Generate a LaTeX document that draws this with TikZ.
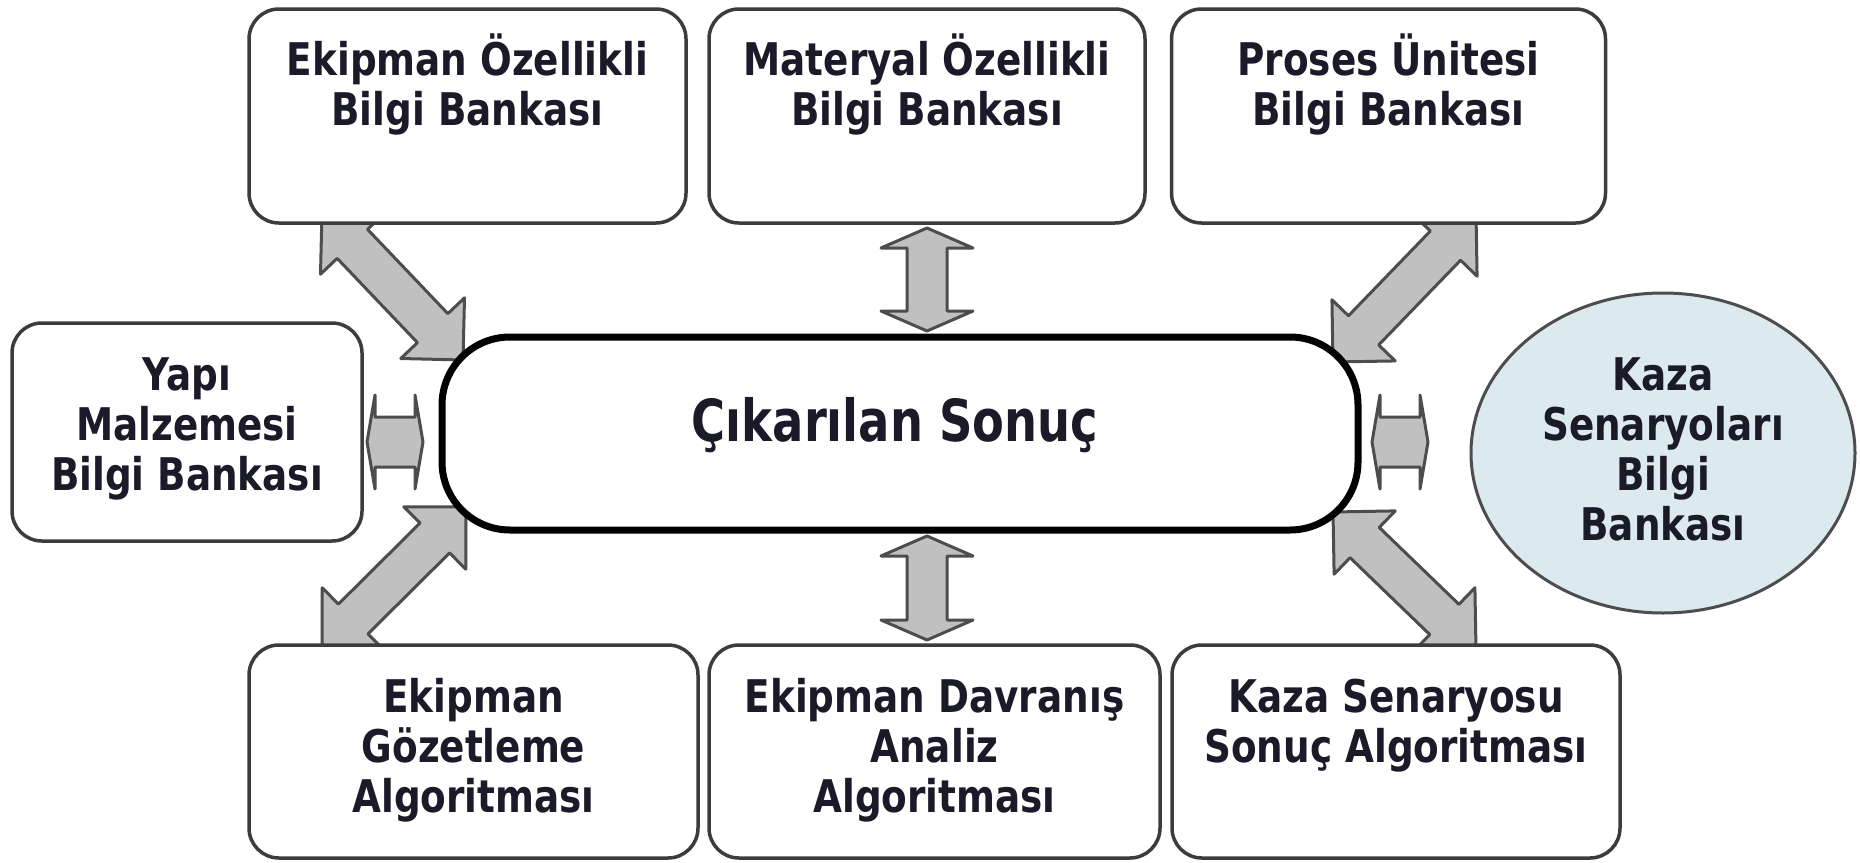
\documentclass[tikz,border=0pt]{standalone}
\usepackage{fontspec}
\setmainfont{DejaVu Sans}[FakeStretch=0.83]
\newfontfamily\titlefont{DejaVu Sans}[FakeStretch=0.80]
\usetikzlibrary{calc,shapes.geometric}

\definecolor{boxline}{HTML}{3C3C3C}
\definecolor{arrfill}{HTML}{C0C0C0}
\definecolor{arrline}{HTML}{4D4D4D}
\definecolor{txt}{HTML}{1A1A28}
\definecolor{ellfill}{HTML}{DCEAEF}

% strut that fixes the height of the first text line
\newcommand{\firstline}{\rule{0pt}{43pt}}

% double-headed block arrow between two tips:
% #1,#2 tips, #3 shaft half-width, #4 head half-width, #5 head length
\newcommand{\dblarrow}[5]{%
  \filldraw[arrowbody]
    (#1)
    -- ($(#1)!#5!(#2)!#4!90:(#2)$)
    -- ($(#1)!#5!(#2)!#3!90:(#2)$)
    -- ($(#2)!#5!(#1)!#3!-90:(#1)$)
    -- ($(#2)!#5!(#1)!#4!-90:(#1)$)
    -- (#2)
    -- ($(#2)!#5!(#1)!#4!90:(#1)$)
    -- ($(#2)!#5!(#1)!#3!90:(#1)$)
    -- ($(#1)!#5!(#2)!#3!-90:(#2)$)
    -- ($(#1)!#5!(#2)!#4!-90:(#2)$)
    -- cycle;}

\tikzset{
  bx/.style={draw=boxline, line width=3.5pt, fill=white, rounded corners=30pt,
             inner sep=0pt},
  lbl/.style={text=txt, font=\bfseries\fontsize{45}{50}\selectfont,
              align=center, inner sep=0pt, anchor=north},
  arrowbody/.style={fill=arrfill, draw=arrline, line width=3pt, line join=round},
}

\begin{document}
\begin{tikzpicture}[x=1pt,y=-1pt]
  \useasboundingbox (0,0) rectangle (1860,862);
  \fill[white] (0,0) rectangle (1860,862);

  % arrow tips
  \coordinate (a1s) at (322,212);  \coordinate (a1e) at (463,360);
  \coordinate (a2s) at (1476,214); \coordinate (a2e) at (1333,362);
  \coordinate (a3s) at (322,650);  \coordinate (a3e) at (466,507);
  \coordinate (a4s) at (1476,650); \coordinate (a4e) at (1333,512);
  \coordinate (a5s) at (927,228);  \coordinate (a5e) at (927,331);
  \coordinate (a6s) at (927,536);  \coordinate (a6e) at (927,640);
  \coordinate (a7s) at (367,442);  \coordinate (a7e) at (423,442);
  \coordinate (a8s) at (1372,442); \coordinate (a8e) at (1428,442);

  % block arrows (drawn first, boxes cover their ends)
  \dblarrow{a1s}{a1e}{21pt}{44pt}{44pt}
  \dblarrow{a2s}{a2e}{21pt}{44pt}{44pt}
  \dblarrow{a3s}{a3e}{21pt}{44pt}{44pt}
  \dblarrow{a4s}{a4e}{21pt}{44pt}{44pt}
  \dblarrow{a5s}{a5e}{20pt}{46pt}{20pt}
  \dblarrow{a6s}{a6e}{20pt}{46pt}{20pt}
  \dblarrow{a7s}{a7e}{25pt}{47pt}{8pt}
  \dblarrow{a8s}{a8e}{25pt}{47pt}{8pt}

  % top row
  \node[bx, minimum width=437pt, minimum height=214pt] (e1) at (467.5,116) {};
  \node[bx, minimum width=436pt, minimum height=214pt] (e2) at (927,116) {};
  \node[bx, minimum width=434pt, minimum height=214pt] (e3) at (1388.5,116) {};
  \node[lbl] (e1t) at (467.5,32) {\firstline Ekipman Özellikli\\Bilgi Bankası};
  \node[lbl] (e2t) at (927,32) {\firstline Materyal Özellikli\\Bilgi Bankası};
  \node[lbl] (e3t) at (1388.5,32) {\firstline Proses Ünitesi\\Bilgi Bankası};

  % bottom row
  \node[bx, minimum width=449pt, minimum height=213pt] (b1) at (473.5,751.5) {};
  \node[bx, minimum width=451pt, minimum height=213pt] (b2) at (934.5,751.5) {};
  \node[bx, minimum width=448pt, minimum height=213pt] (b3) at (1396,751.5) {};
  \node[lbl] (b1t) at (473.5,669) {\firstline Ekipman\\Gözetleme\\Algoritması};
  \node[lbl] (b2t) at (934.5,669) {\firstline Ekipman Davranış\\Analiz\\Algoritması};
  \node[lbl] (b3t) at (1396,669) {\firstline Kaza Senaryosu\\Sonuç Algoritması};

  % middle row
  \node[bx, minimum width=350pt, minimum height=218pt] (yp) at (187,432) {};
  \node[lbl] (ypt) at (187,347) {\firstline Yapı\\Malzemesi\\Bilgi Bankası};

  \node[draw=black, line width=7pt, fill=white, rounded corners=68pt,
        minimum width=916pt, minimum height=193pt, inner sep=0pt] (res) at (900,433.5) {};
  \node[text=txt, font=\titlefont\bfseries\fontsize{58}{64}\selectfont, inner sep=0pt,
        anchor=base] (rest) at (895,441) {Çıkarılan Sonuç};

  \node[ellipse, draw=arrline, line width=3pt, fill=ellfill,
        minimum width=384pt, minimum height=320pt, inner sep=0pt] (kz) at (1663,453) {};
  \node[lbl] (kzt) at (1663,347) {\firstline Kaza\\Senaryoları\\Bilgi\\Bankası};
\end{tikzpicture}
\end{document}
